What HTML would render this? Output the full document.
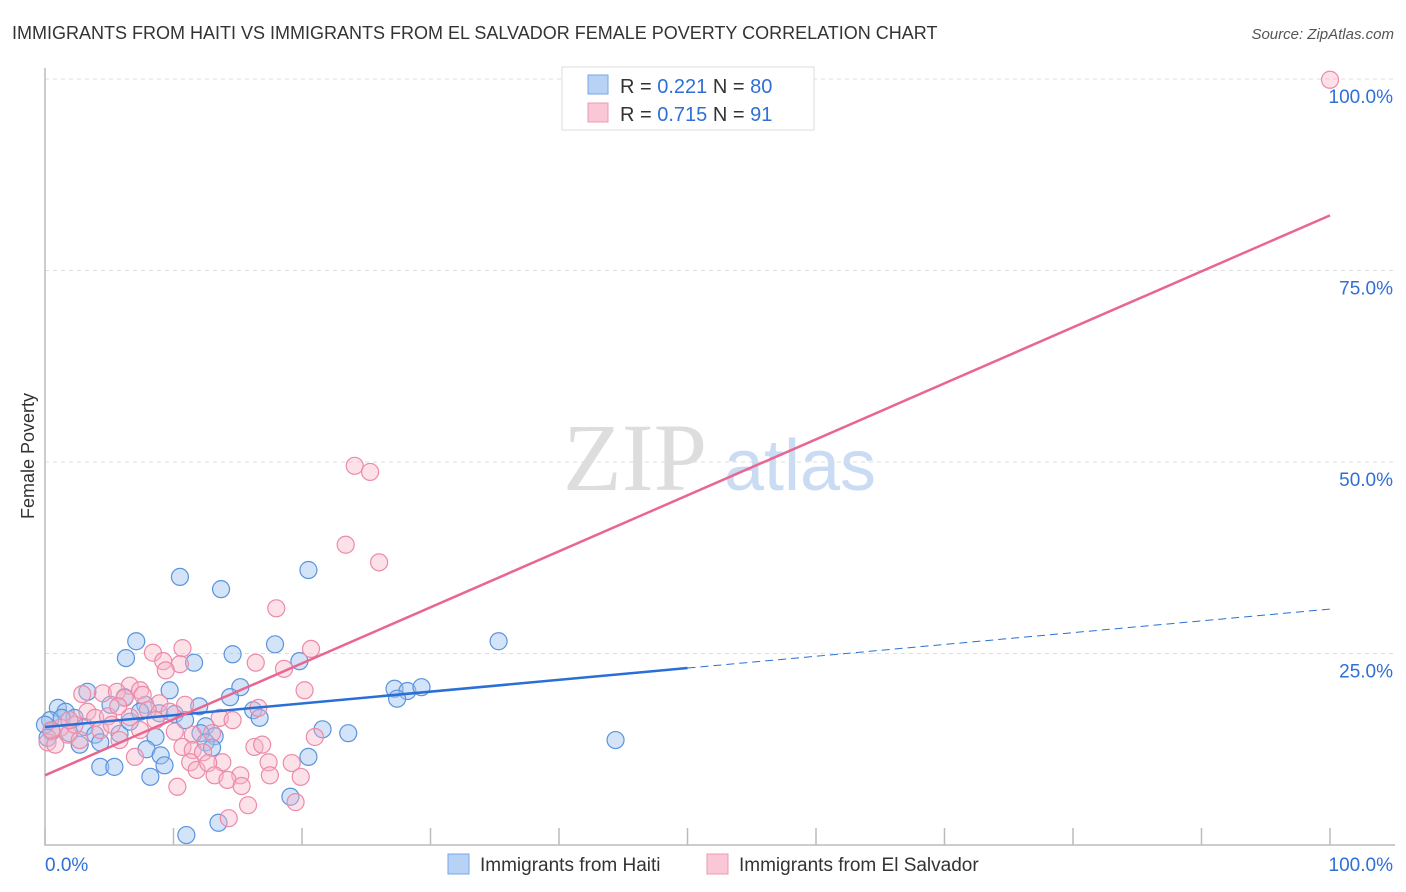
<!DOCTYPE html>
<html><head><meta charset="utf-8"><style>
body{margin:0;background:#fff;font-family:"Liberation Sans",sans-serif;}
svg{display:block}
</style></head><body>
<svg id="chart" width="1406" height="892" xmlns="http://www.w3.org/2000/svg">
<text x="12" y="39" font-size="18" fill="#333">IMMIGRANTS FROM HAITI VS IMMIGRANTS FROM EL SALVADOR FEMALE POVERTY CORRELATION CHART</text>
<text x="1394" y="39" font-size="15" fill="#555" font-style="italic" text-anchor="end">Source: ZipAtlas.com</text>
<text transform="translate(34,456) rotate(-90)" font-size="18" fill="#333" text-anchor="middle">Female Poverty</text>
<g><text x="635" y="490" font-size="96" fill="#ddd" font-family="Liberation Serif,serif" text-anchor="middle">ZIP</text><text x="800" y="490" font-size="72" fill="#c9dcf3" text-anchor="middle">atlas</text></g>
<g id="grid"></g><g id="pts"></g><g id="lines"></g>
<g>
<rect x="562" y="67" width="252" height="63" fill="#fff" stroke="#ddd"/>
<rect x="588" y="75" width="20" height="19" fill="#b8d2f5" stroke="#7aa6e6"/>
<rect x="588" y="103" width="20" height="19" fill="#f9c7d6" stroke="#ee9ab3"/>
<text x="620" y="93" font-size="20" fill="#333">R = <tspan fill="#2f6fd6">0.221</tspan>   N = <tspan fill="#2f6fd6">80</tspan></text>
<text x="620" y="121" font-size="20" fill="#333">R = <tspan fill="#2f6fd6">0.715</tspan>   N =  <tspan fill="#2f6fd6">91</tspan></text>
</g>
<g>
<rect x="448" y="854" width="21" height="20" fill="#b8d2f5" stroke="#7aa6e6"/>
<text x="480" y="871" font-size="19" fill="#333">Immigrants from Haiti</text>
<rect x="707" y="854" width="21" height="20" fill="#f9c7d6" stroke="#ee9ab3"/>
<text x="739" y="871" font-size="19" fill="#333">Immigrants from El Salvador</text>
</g>
<text x="45" y="871" font-size="19" fill="#2f6fd6">0.0%</text>
<text x="1393" y="871" font-size="19" fill="#2f6fd6" text-anchor="end">100.0%</text>
</svg>
<script>
const yTicks=[100,75,50,25];
const yTickLabels=["100.0%","75.0%","50.0%","25.0%"];
const xTicks=[0,10,20,30,40,50,60,70,80,90,100];
const haitiX=[10.5,20.5,13.7,35.3,7.1,17.9,6.3,11.6,14.6,19.8,15.2,9.7,3.3,27.2,28.2,29.3,27.4,14.4,6.2,12.0,16.2,16.7,5.1,1.0,1.6,2.3,7.8,8.9,10.1,10.9,12.5,13.2,21.6,23.6,44.4,0.4,0.5,1.9,3.1,3.9,4.3,2.7,5.8,8.6,7.9,9.0,12.1,12.5,13.0,9.3,4.3,5.4,8.2,20.5,19.1,13.5,11.0,1.3,6.6,7.4,0,0.2];
const haitiY=[35.0,35.9,33.4,26.6,26.6,26.2,24.4,23.8,24.9,24.0,20.6,20.2,20.0,20.4,20.1,20.6,19.1,19.3,19.3,18.1,17.6,16.6,18.3,17.9,17.4,16.6,18.3,17.2,17.1,16.3,15.5,14.2,15.1,14.6,13.7,16.3,14.8,14.6,15.4,14.4,13.4,13.1,14.5,14.1,12.5,11.7,14.6,13.4,12.7,10.4,10.2,10.2,8.9,11.5,6.3,2.9,1.3,16.6,16.1,17.4,15.7,14.0];
const salvX=[100,24.1,25.3,23.4,26,18,10.7,20.7,8.4,9.2,10.5,9.4,16.4,18.6,20.2,6.6,7.4,2.9,4.5,5.6,6.2,7.6,8.9,10.9,16.6,3.3,3.9,4.9,6.6,8.0,9.7,13.6,14.6,1.2,1.8,2.3,4.3,5.2,7.4,10.1,11.5,13,0.2,0.8,0.5,5.8,10.7,11.5,12.3,16.3,16.9,21,7,11.3,11.8,13.8,12.7,17.4,19.2,15.2,13.2,14.2,17.5,19.9,15.3,10.3,15.8,14.3,19.5,1.9,2.7,8.6,5.7];
const salvY=[99.9,49.5,48.7,39.2,36.9,30.9,25.7,25.6,25.1,24.0,23.6,22.8,23.8,23.0,20.2,20.8,20.2,19.7,19.8,20.0,19.2,19.6,18.5,18.3,17.9,17.4,16.6,16.8,16.7,17.6,17.4,16.6,16.3,15.3,14.4,15.7,15.0,15.7,15.0,14.8,14.4,14.6,13.4,13.1,15.0,13.7,12.8,12.4,12.1,12.8,13.1,14.1,11.5,10.8,9.8,10.8,10.7,10.8,10.7,9.1,9.1,8.5,9.1,8.9,7.7,7.6,5.2,3.5,5.6,16.3,13.7,16.3,18.1];
const haitiTrend=[15.4,30.8];
const salvTrend=[9.1,82.2];
const NS="http://www.w3.org/2000/svg";
const X=v=>45+v*12.85, Y=v=>845-v*7.66;
function mk(tag,attrs,parent){const e=document.createElementNS(NS,tag);for(const k in attrs)e.setAttribute(k,attrs[k]);parent.appendChild(e);return e;}
const grid=document.getElementById('grid');
yTicks.forEach((t,i)=>{
 const l=mk('line',{x1:45,x2:1395,y1:Y(t),y2:Y(t),stroke:'#ddd','stroke-dasharray':'4,4'},grid);
 
 
 const tx=mk('text',{x:1393,y:Y(t)+24,'font-size':19,fill:'#2f6fd6','text-anchor':'end'},grid);
 tx.textContent=yTickLabels[i];
 
 
});
const ax=mk('path',{d:`M45 68V845H1395`,stroke:'#bbb',fill:'none','stroke-width':1.5},grid);


xTicks.forEach(t=>{
 const l=mk('line',{x1:X(t),x2:X(t),y1:845,y2:828,stroke:'#bbb','stroke-width':1.5},grid);
 
 
});
const pts=document.getElementById('pts');
haitiX.forEach((v,i)=>{
 const c=mk('circle',{cx:X(v),cy:Y(haitiY[i]),r:8.5,fill:'rgba(160,195,240,0.45)',stroke:'#5b93dd','stroke-width':1.2},pts);
 
 
});
salvX.forEach((v,i)=>{
 const c=mk('circle',{cx:X(v),cy:Y(salvY[i]),r:8.5,fill:'rgba(248,180,200,0.4)',stroke:'#ec8aa8','stroke-width':1.2},pts);
 
 
});
const lines=document.getElementById('lines');
const hm=haitiTrend[0]+(haitiTrend[1]-haitiTrend[0])*0.5;
let a=mk('line',{x1:X(0),y1:Y(haitiTrend[0]),x2:X(50),y2:Y(hm),stroke:'#2a6fd6','stroke-width':2.5},lines);


a=mk('line',{x1:X(50),y1:Y(hm),x2:X(100),y2:Y(haitiTrend[1]),stroke:'#2a6fd6','stroke-width':1,'stroke-dasharray':'8,5'},lines);


a=mk('line',{x1:X(0),y1:Y(salvTrend[0]),x2:X(100),y2:Y(salvTrend[1]),stroke:'#e8668f','stroke-width':2.5},lines);


</script>
</body></html>
